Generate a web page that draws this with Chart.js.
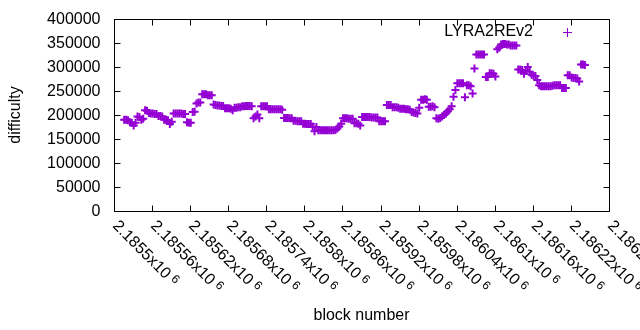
<!DOCTYPE html>
<html>
<head>
<meta charset="utf-8">
<script src="https://cdn.jsdelivr.net/npm/chart.js@4/dist/chart.umd.min.js"></script>
<style>
  body { margin: 0; background: #fff; }
</style>
</head>
<body>
<canvas id="myChart" width="640" height="330"></canvas>
<script>
// block numbers (every 3rd block)
const blocks = [
  2185516,2185519,2185522,2185525,2185528,2185531,2185534,2185537,2185540,2185543,
  2185546,2185549,2185552,2185555,2185558,2185561,2185564,2185567,2185570,2185573,
  2185576,2185579,2185582,2185585,2185588,2185591,2185594,2185597,2185600,2185603,
  2185606,2185609,2185612,2185615,2185618,2185621,2185624,2185627,2185630,2185633,
  2185636,2185639,2185642,2185645,2185648,2185651,2185654,2185657,2185660,2185663,
  2185666,2185669,2185672,2185675,2185678,2185681,2185684,2185687,2185690,2185693,
  2185696,2185699,2185702,2185705,2185708,2185711,2185714,2185717,2185720,2185723,
  2185726,2185729,2185732,2185735,2185738,2185741,2185744,2185747,2185750,2185753,
  2185756,2185759,2185762,2185765,2185768,2185771,2185774,2185777,2185780,2185783,
  2185786,2185789,2185792,2185795,2185798,2185801,2185804,2185807,2185810,2185813,
  2185816,2185819,2185822,2185825,2185828,2185831,2185834,2185837,2185840,2185843,
  2185846,2185849,2185852,2185855,2185858,2185861,2185864,2185867,2185870,2185873,
  2185876,2185879,2185882,2185885,2185888,2185891,2185894,2185897,2185900,2185903,
  2185906,2185909,2185912,2185915,2185918,2185921,2185924,2185927,2185930,2185933,
  2185936,2185939,2185942,2185945,2185948,2185951,2185954,2185957,2185960,2185963,
  2185966,2185969,2185972,2185975,2185978,2185981,2185984,2185987,2185990,2185993,
  2185996,2185999,2186002,2186005,2186008,2186011,2186014,2186017,2186020,2186023,
  2186026,2186029,2186032,2186035,2186038,2186041,2186044,2186047,2186050,2186053,
  2186056,2186059,2186062,2186065,2186068,2186071,2186074,2186077,2186080,2186083,
  2186086,2186089,2186092,2186095,2186098,2186101,2186104,2186107,2186110,2186113,
  2186116,2186119,2186122,2186125,2186128,2186131,2186134,2186137,2186140,2186143,
  2186146,2186149,2186152,2186155,2186158,2186161,2186164,2186167,2186170,2186173,
  2186176,2186179,2186182,2186185,2186188,2186191,2186194,2186197,2186200,2186203,
  2186206,2186209,2186212,2186215,2186218,2186221,2186224,2186227,2186230,2186233,
  2186236,2186239,2186242
];

// difficulty at each of those blocks
const difficulty = [
  190000,190000,189000,185000,184000,178000,184000,197000,196000,190000,
  192000,210000,209000,204000,203000,203000,202000,202000,198000,198000,
  197000,190000,190000,189000,181000,186000,203000,203000,203000,203000,
  203000,202000,202000,185000,184000,184000,206000,207000,224000,226000,
  226000,243000,243000,243000,241000,241000,241000,222000,221000,220000,
  220000,219000,219000,214000,214000,214000,213000,210000,215000,215000,
  216000,216000,218000,218000,219000,219000,219000,218000,193000,197000,
  201000,193000,218000,218000,218000,218000,212000,212000,212000,212000,
  212000,212000,212000,211000,194000,194000,194000,193000,193000,188000,
  188000,187000,187000,187000,182000,182000,181000,181000,181000,176000,
  166000,175000,168000,168000,168000,168000,168000,168000,168000,168000,
  168000,169000,172000,176000,182000,193000,193000,193000,192000,192000,
  192000,183000,183000,182000,178000,196000,196000,196000,196000,196000,
  195000,195000,195000,195000,187000,187000,187000,187000,221000,221000,
  221000,216000,216000,216000,215000,213000,213000,213000,212000,212000,
  211000,206000,205000,204000,203000,215000,232000,232000,233000,232000,
  217000,217000,218000,216000,193000,192000,194000,197000,200000,203000,
  208000,212000,218000,238000,252000,266000,266000,266000,266000,237000,
  262000,262000,260000,245000,297000,326000,326000,326000,326000,326000,
  279000,279000,287000,287000,286000,280000,337000,340000,347000,348000,
  348000,347000,347000,345000,345000,345000,345000,295000,295000,294000,
  286000,292000,300000,290000,284000,282000,281000,273000,262000,260000,
  260000,260000,260000,260000,260000,261000,262000,262000,262000,262000,
  256000,256000,256000,283000,283000,278000,277000,277000,276000,270000,
  305000,305000,304000
];

const seriesName = 'LYRA2REv2';
const xMin = 2185500, xMax = 2186280, xStep = 60;
const yMin = 0, yMax = 400000, yStep = 50000;

const purple = '#9400d3';
const font = '"Liberation Sans", Arial, sans-serif';

function blockLabel(v) {
  return parseFloat((v / 1e6).toFixed(5)).toString();
}

// gnuplot style frame: border, inward mirrored ticks, tick labels, titles, key
const frame = {
  id: 'frame',
  afterDatasetsDraw(chart) {
    const ctx = chart.ctx;
    const a = chart.chartArea;
    const xs = chart.scales.x;
    const ys = chart.scales.y;
    const L = Math.round(a.left) + 0.5, R = Math.round(a.right) + 0.5;
    const T = Math.round(a.top) + 0.5, B = Math.round(a.bottom) + 0.5;

    ctx.save();
    ctx.strokeStyle = '#000';
    ctx.lineWidth = 1;
    ctx.beginPath();
    ctx.rect(L, T, R - L, B - T);
    xs.ticks.forEach(t => {
      const x = Math.round(xs.getPixelForValue(t.value)) + 0.5;
      ctx.moveTo(x, B); ctx.lineTo(x, B - 6);
      ctx.moveTo(x, T); ctx.lineTo(x, T + 6);
    });
    ys.ticks.forEach(t => {
      const y = Math.round(ys.getPixelForValue(t.value)) + 0.5;
      ctx.moveTo(L, y); ctx.lineTo(L + 6, y);
      ctx.moveTo(R, y); ctx.lineTo(R - 6, y);
    });
    ctx.stroke();

    ctx.fillStyle = '#000';

    // y tick labels
    ctx.font = '16px ' + font;
    ctx.textAlign = 'right';
    ctx.textBaseline = 'middle';
    ys.ticks.forEach(t => {
      ctx.fillText(String(t.value), L - 14, ys.getPixelForValue(t.value) + 1);
    });

    // x tick labels, rotated clockwise
    xs.ticks.forEach(t => {
      const x = xs.getPixelForValue(t.value);
      ctx.save();
      ctx.translate(x + 1, B + 12);
      ctx.rotate(Math.PI / 4);
      ctx.textAlign = 'left';
      ctx.textBaseline = 'middle';
      ctx.font = '16px ' + font;
      const main = blockLabel(t.value) + 'x10';
      ctx.fillText(main, 0, 0);
      const w = ctx.measureText(main).width;
      ctx.font = '12px ' + font;
      ctx.fillText('6', w + 4, -3);
      ctx.restore();
    });

    // axis titles
    ctx.font = '16px ' + font;
    ctx.textAlign = 'center';
    ctx.textBaseline = 'middle';
    ctx.fillText('block number', (a.left + a.right) / 2, 316);
    ctx.save();
    ctx.translate(16, (a.top + a.bottom) / 2);
    ctx.rotate(-Math.PI / 2);
    ctx.fillText('difficulty', 0, 0);
    ctx.restore();

    // key
    ctx.textAlign = 'right';
    ctx.fillText(seriesName, 533, 32);
    ctx.strokeStyle = purple;
    ctx.beginPath();
    ctx.moveTo(563, 32.5); ctx.lineTo(572, 32.5);
    ctx.moveTo(567.5, 28); ctx.lineTo(567.5, 37);
    ctx.stroke();
    ctx.restore();
  }
};

const ctx = document.getElementById('myChart').getContext('2d');
const myChart = new Chart(ctx, {
  type: 'scatter',
  data: {
    datasets: [{
      label: seriesName,
      data: blocks.map((b, i) => ({x: b, y: difficulty[i]})),
      pointStyle: 'cross',
      pointRadius: 4,
      borderColor: purple,
      backgroundColor: purple,
      borderWidth: 2
    }]
  },
  options: {
    responsive: false,
    animation: false,
    layout: { padding: { top: 19, right: 31, left: 0, bottom: 0 } },
    plugins: {
      legend: { display: false },
      tooltip: { enabled: false }
    },
    scales: {
      x: {
        type: 'linear',
        min: xMin,
        max: xMax,
        grid: { display: false },
        border: { display: false },
        ticks: { stepSize: xStep, display: false },
        afterFit(scale) { scale.height = 119; }
      },
      y: {
        min: yMin,
        max: yMax,
        grid: { display: false },
        border: { display: false },
        ticks: { stepSize: yStep, display: false },
        afterFit(scale) { scale.width = 114; }
      }
    }
  },
  plugins: [frame]
});
</script>
</body>
</html>
